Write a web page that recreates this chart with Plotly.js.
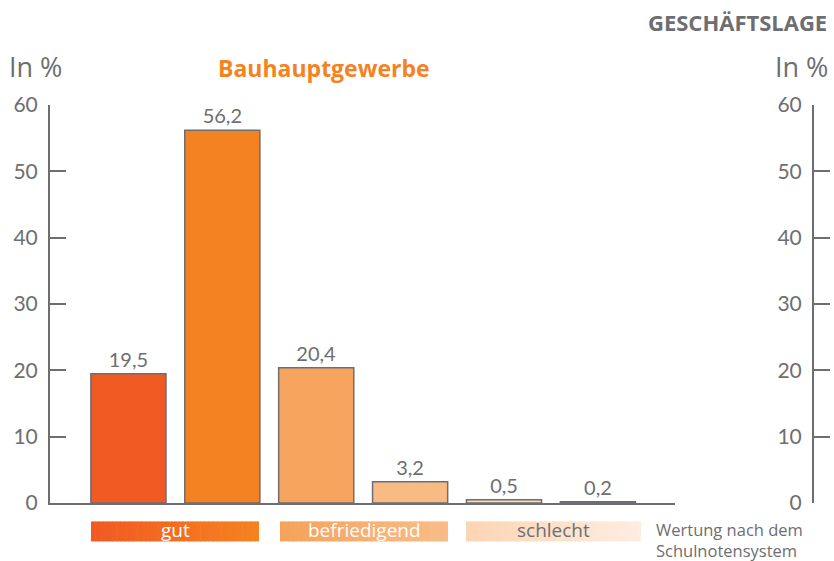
<!DOCTYPE html>
<html>
<head>
<meta charset="utf-8">
<script src="https://cdn.plot.ly/plotly-3.0.1.min.js"></script>
<style>html,body{margin:0;padding:0;background:#fff;}#chart{width:834px;height:561px;}</style>
</head>
<body>
<div id="chart"></div>
<script>
// ---- data ----
const grades = ['1', '2', '3', '4', '5', '6'];          // Schulnoten
const values = [19.5, 56.2, 20.4, 3.2, 0.5, 0.2];       // in %
const barColors = ['#F15A22', '#F58220', '#F6A45E', '#F9BB84', '#FCD8B6', '#FFFFFF'];
const yTicks = [0, 10, 20, 30, 40, 50, 60];
const groupLabels = ['gut', 'befriedigend', 'schlecht'];
const groupFrom = ['#F15A22', '#F6A25B', '#FCD5B4'];
const groupTo = ['#F58220', '#F9BC87', '#FEEDE0'];
const groupTextColors = ['#FFFFFF', '#FFFFFF', '#6D6E71'];
const chartTitle = 'Bauhauptgewerbe';
const headerText = 'GESCHÄFTSLAGE';
const unitText = 'In %';
const footLines = ['Wertung nach dem', 'Schulnotensystem'];

// ---- layout helpers ----
const W = 834, H = 561, L = 50, R = 21, T = 105, B = 58.4;
const pw = W - L - R, ph = H - T - B;
const GRAY = '#6D6E71';
const px = p => (p - L) / pw;
const py = p => (H - B - p) / ph;
const textLabels = values.map(v => v.toFixed(1).replace('.', ','));

const traces = [
  {
    type: 'bar', x: grades, y: values, xaxis: 'x', yaxis: 'y',
    marker: {color: barColors, line: {color: GRAY, width: 1.5}},
    text: textLabels, textposition: 'outside', cliponaxis: false,
    textfont: {family: 'Lato, sans-serif', size: 20, color: GRAY},
    hoverinfo: 'skip', showlegend: false
  },
  {
    type: 'scatter', mode: 'lines', x: grades, y: values, xaxis: 'x', yaxis: 'y2',
    line: {width: 0}, opacity: 0, hoverinfo: 'skip', showlegend: false
  }
];

// gradient legend boxes built from strips
const shapes = [];
const annotations = [];
const boxes = [[91, 259], [280, 448], [466, 641]];
const hex = c => [1, 3, 5].map(i => parseInt(c.substr(i, 2), 16));
boxes.forEach((b, gi) => {
  const n = 40, c0 = hex(groupFrom[gi]), c1 = hex(groupTo[gi]);
  for (let k = 0; k < n; k++) {
    const t = k / (n - 1);
    const c = c0.map((v, j) => Math.round(v + (c1[j] - v) * t));
    const x0 = b[0] + (b[1] - b[0]) * k / n, x1 = b[0] + (b[1] - b[0]) * (k + 1) / n + 0.6;
    shapes.push({type: 'rect', xref: 'paper', yref: 'paper', x0: px(x0), x1: px(Math.min(x1, b[1])),
      y0: py(541), y1: py(521), line: {width: 0}, fillcolor: `rgb(${c.join(',')})`, layer: 'above'});
  }
  annotations.push({xref: 'paper', yref: 'paper', x: px((b[0] + b[1]) / 2), y: py(530),
    xanchor: 'center', yanchor: 'middle', text: groupLabels[gi], showarrow: false,
    font: {family: 'Open Sans, sans-serif', size: 19, color: groupTextColors[gi]}});
});

annotations.push(
  {xref: 'paper', yref: 'paper', x: px(829), y: py(22), xanchor: 'right', yanchor: 'middle',
   text: '<b>' + headerText + '</b>', showarrow: false,
   font: {family: 'Open Sans, sans-serif', size: 22, color: GRAY}},
  {xref: 'paper', yref: 'paper', x: px(7), y: py(67), xanchor: 'left', yanchor: 'middle',
   text: unitText, showarrow: false, font: {family: 'Open Sans, sans-serif', size: 27, color: GRAY}},
  {xref: 'paper', yref: 'paper', x: px(773), y: py(67), xanchor: 'left', yanchor: 'middle',
   text: unitText, showarrow: false, font: {family: 'Open Sans, sans-serif', size: 27, color: GRAY}},
  {xref: 'paper', yref: 'paper', x: px(216), y: py(68), xanchor: 'left', yanchor: 'middle',
   text: '<b>' + chartTitle + '</b>', showarrow: false,
   font: {family: 'Open Sans, sans-serif', size: 23, color: '#F58220'}},
  {xref: 'paper', yref: 'paper', x: px(655), y: py(539.5), xanchor: 'left', yanchor: 'middle',
   text: footLines.join('<br>'), showarrow: false, align: 'left', borderpad: 0,
   font: {family: 'Open Sans, sans-serif', size: 16.5, color: GRAY}}
);

const yAxisCommon = {
  range: [0, 60], tickvals: yTicks, ticktext: yTicks.map(String),
  showgrid: false, zeroline: false, showline: true, linecolor: GRAY, linewidth: 2,
  ticks: 'inside', ticklen: 16, tickwidth: 2, tickcolor: GRAY,
  tickfont: {family: 'Lato, sans-serif', size: 21, color: GRAY}, ticklabelstandoff: 6,
  fixedrange: true
};

const layout = {
  width: W, height: H,
  margin: {l: L, r: R, t: T, b: B, pad: 0},
  paper_bgcolor: '#FFFFFF', plot_bgcolor: 'rgba(0,0,0,0)',
  bargap: 0.2, showlegend: false,
  xaxis: {domain: [0, (675 - L) / pw], type: 'category', range: [-0.835, 5.821],
    showticklabels: false, ticks: '', showgrid: false, zeroline: false,
    showline: true, linecolor: GRAY, linewidth: 2, fixedrange: true},
  yaxis: Object.assign({}, yAxisCommon, {side: 'left', anchor: 'x'}),
  yaxis2: Object.assign({}, yAxisCommon, {side: 'left', overlaying: 'y', anchor: 'free', position: 1}),
  shapes: shapes,
  annotations: annotations
};

Plotly.newPlot('chart', traces, layout, {staticPlot: true, displayModeBar: false});
</script>
</body>
</html>
